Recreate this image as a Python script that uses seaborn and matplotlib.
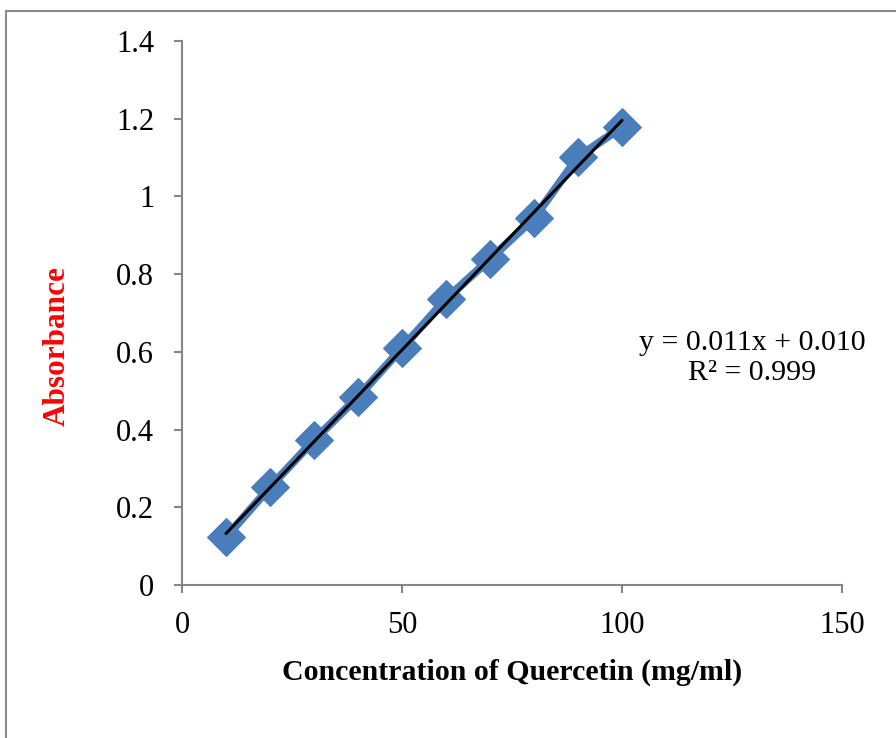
import matplotlib
matplotlib.use("Agg")
import matplotlib.pyplot as plt
import seaborn as sns
import numpy as np
import pandas as pd
from matplotlib.patches import Rectangle

# Data
concentration = [10, 20, 30, 40, 50, 60, 70, 80, 90, 100]
absorbance = [0.123, 0.252, 0.373, 0.484, 0.610, 0.736, 0.839, 0.944, 1.101, 1.179]
x_ticks = [0, 50, 100, 150]
y_ticks = [0, 0.2, 0.4, 0.6, 0.8, 1.0, 1.2, 1.4]
y_tick_labels = ["0", "0.2", "0.4", "0.6", "0.8", "1", "1.2", "1.4"]
equation_text = "y = 0.011x + 0.010\nR² = 0.999"
x_title = "Concentration of Quercetin (mg/ml)"
y_title = "Absorbance"

df = pd.DataFrame({"conc": concentration, "abs": absorbance})

sns.set_theme(style="white")
plt.rcParams["font.family"] = ["Liberation Serif", "DejaVu Serif"]

fig = plt.figure(figsize=(8.96, 7.38), dpi=100)
fig.patch.set_facecolor("white")
ax = fig.add_axes([182 / 896, 1 - 585 / 738, (842 - 182) / 896, (585 - 41) / 738])

# outer border of chart area
fig.patches.append(Rectangle((6 / 896, -0.1), 1.2, 1 - 11 / 738 + 0.1,
                             transform=fig.transFigure, fill=False,
                             edgecolor="#8c8c8c", linewidth=1.5, zorder=0))

sns.lineplot(data=df, x="conc", y="abs", ax=ax, color="#4a7ebb", linewidth=6,
             marker="D", markersize=19, markeredgecolor="#4a7ebb",
             markerfacecolor="#4a7ebb", zorder=2)
sns.regplot(data=df, x="conc", y="abs", ax=ax, scatter=False, ci=None,
            truncate=True, color="black", line_kws={"linewidth": 2.2, "zorder": 3})

ax.set_xlim(0, 150)
ax.set_ylim(0, 1.4)
ax.set_xticks(x_ticks)
ax.set_xticklabels([str(t) for t in x_ticks])
ax.set_yticks(y_ticks)
ax.set_yticklabels(y_tick_labels)

for side in ["top", "right"]:
    ax.spines[side].set_visible(False)
for side in ["left", "bottom"]:
    ax.spines[side].set_color("#868686")
    ax.spines[side].set_linewidth(1.5)

ax.tick_params(axis="both", which="major", direction="out", length=6, width=1.5,
               color="#868686", labelsize=22, labelcolor="black",
               bottom=True, left=True)
ax.tick_params(axis="y", pad=14)
ax.tick_params(axis="x", pad=13)

ax.set_xlabel(x_title, fontsize=21.5, fontweight="bold", color="black")
ax.xaxis.set_label_coords((512.5 - 182) / 660, (585 - 659) / 544)
ax.set_ylabel(y_title, fontsize=22.5, fontweight="bold", color="red")
ax.yaxis.set_label_coords((72 - 182) / 660, (585 - 346.5) / 544)

ax.text(752 / 896, 1 - 358 / 738, equation_text, transform=fig.transFigure,
        ha="center", va="center", fontsize=21.5, color="black", linespacing=1.2)

ax.grid(False)
fig.savefig("out.png", dpi=100, facecolor="white")
